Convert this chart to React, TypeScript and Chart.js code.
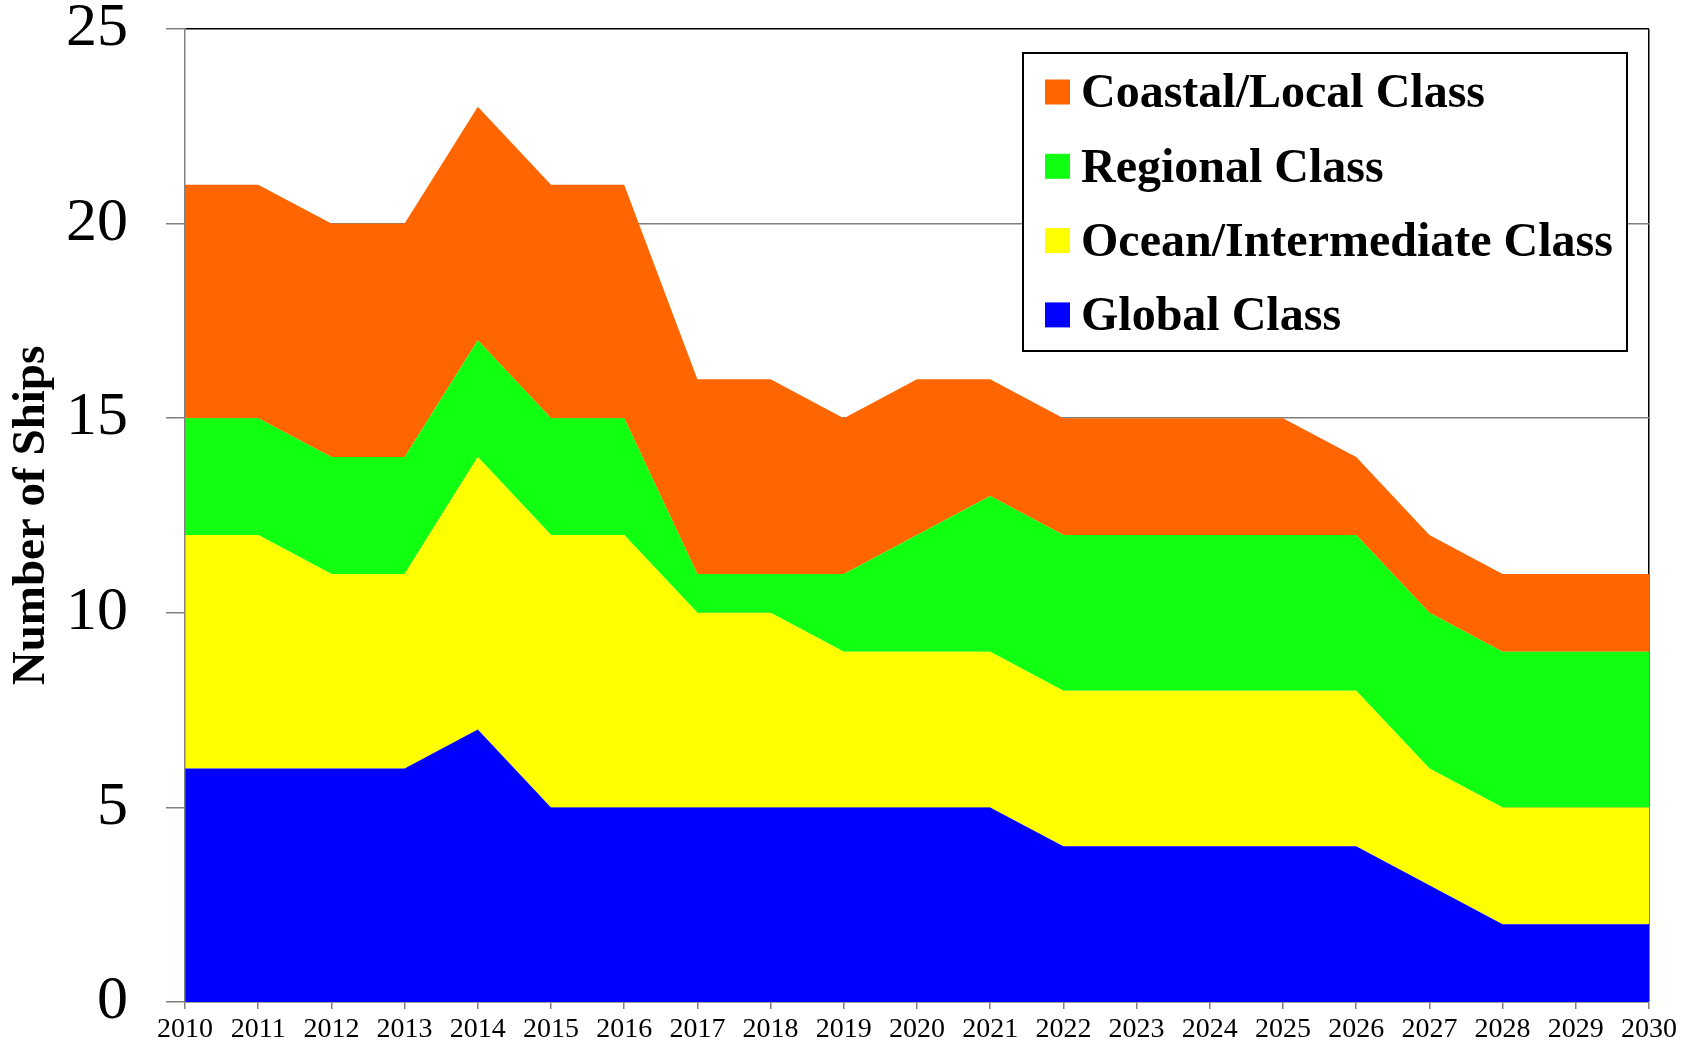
import React, { useEffect, useRef } from "react";
import { Chart, registerables } from "chart.js";

Chart.register(...registerables);

const years = ["2010","2011","2012","2013","2014","2015","2016","2017","2018","2019","2020","2021","2022","2023","2024","2025","2026","2027","2028","2029","2030"];
const globalClass = [6,6,6,6,7,5,5,5,5,5,5,5,4,4,4,4,4,3,2,2,2];
const oceanClass = [6,6,5,5,7,7,7,5,5,4,4,4,4,4,4,4,4,3,3,3,3];
const regionalClass = [3,3,3,3,3,3,3,1,1,2,3,4,4,4,4,4,4,4,4,4,4];
const coastalClass = [6,6,6,6,6,6,6,5,5,4,4,3,3,3,3,3,2,2,2,2,2];
const seriesLabels = ["Global Class","Ocean/Intermediate Class","Regional Class","Coastal/Local Class"];
const seriesColors = ["#0000FF","#FFFF00","#11FF11","#FF6600"];
const yTicks = [0,5,10,15,20,25];

const FONT = "'Liberation Serif', 'Times New Roman', serif";

const legendPlugin = {
  id: "insideLegend",
  afterDatasetsDraw(chart: any) {
    const { ctx, chartArea } = chart;
    const w = 604, h = 298;
    const x = chartArea.right - 22 - w;
    const y = chartArea.top + 24;
    ctx.save();
    ctx.fillStyle = "#FFFFFF";
    ctx.fillRect(x, y, w, h);
    ctx.strokeStyle = "#000000";
    ctx.lineWidth = 2;
    ctx.strokeRect(x, y, w, h);
    const ds = chart.data.datasets;
    const order = ds.map((_: any, i: number) => i).reverse();
    ctx.font = `bold 48px ${FONT}`;
    ctx.textBaseline = "middle";
    ctx.textAlign = "left";
    order.forEach((di: number, row: number) => {
      const cy = y + 39 + row * 74.3;
      ctx.fillStyle = ds[di].backgroundColor;
      ctx.fillRect(x + 22, cy - 12.5, 25, 25);
      ctx.fillStyle = "#000000";
      ctx.fillText(ds[di].label, x + 58, cy + 3);
    });
    ctx.restore();
  },
};

export default function App() {
  const canvasRef = useRef<HTMLCanvasElement | null>(null);

  useEffect(() => {
    const canvas = canvasRef.current;
    if (!canvas) return;
    const values = [globalClass, oceanClass, regionalClass, coastalClass];
    const chart = new Chart(canvas, {
      type: "line",
      data: {
        labels: years,
        datasets: values.map((v, i) => ({
          label: seriesLabels[i],
          data: v,
          backgroundColor: seriesColors[i],
          borderColor: seriesColors[i],
          borderWidth: 0,
          pointRadius: 0,
          tension: 0,
          fill: i === 0 ? "origin" : "-1",
        })),
      },
      options: {
        animation: false,
        responsive: false,
        devicePixelRatio: 1,
        layout: { padding: { left: 0, top: 29, right: 45, bottom: 0 } },
        plugins: {
          legend: { display: false },
          tooltip: { enabled: false },
        },
        scales: {
          x: {
            type: "category",
            offset: false,
            grid: {
              drawOnChartArea: true,
              drawTicks: true,
              tickLength: 7,
              tickColor: "#808080",
              color: (ctx: any) => (ctx.index === years.length - 1 ? "#000000" : "rgba(0,0,0,0)"),
              lineWidth: 1.5,
            },
            border: { display: true, color: "#808080", width: 1.5 },
            ticks: {
              color: "#000000",
              font: { family: FONT, size: 28, lineHeight: 1.0 },
              padding: 7,
              maxRotation: 0,
              autoSkip: false,
            },
            afterFit: (scale: any) => {
              scale.height = 45;
              scale.paddingLeft = 0;
              scale.paddingRight = 0;
            },
          },
          y: {
            stacked: true,
            min: 0,
            max: 25,
            afterBuildTicks: (scale: any) => {
              scale.ticks = yTicks.map((v) => ({ value: v }));
            },
            grid: {
              color: (ctx: any) => (ctx.tick && ctx.tick.value === 25 ? "#000000" : "#808080"),
              tickColor: "#808080",
              tickLength: 19,
              lineWidth: 1.5,
            },
            border: { display: true, color: "#808080", width: 1.5, z: 1 },
            ticks: {
              color: "#000000",
              font: { family: FONT, size: 62, lineHeight: 1.0 },
              padding: 38,
            },
            title: {
              display: true,
              text: "Number of Ships",
              color: "#000000",
              font: { family: FONT, size: 47, weight: "bold", lineHeight: 1.2 },
              padding: { top: 4, bottom: 0 },
            },
            afterFit: (scale: any) => {
              scale.width = 185;
              scale.paddingTop = 0;
              scale.paddingBottom = 0;
            },
          },
        },
      } as any,
      plugins: [legendPlugin],
    });
    return () => chart.destroy();
  }, []);

  return (
    <div style={{ position: "fixed", left: 0, top: 0, width: 1694, height: 1047, background: "#FFFFFF" }}>
      <canvas ref={canvasRef} width={1694} height={1047} style={{ width: 1694, height: 1047, display: "block" }} />
    </div>
  );
}
